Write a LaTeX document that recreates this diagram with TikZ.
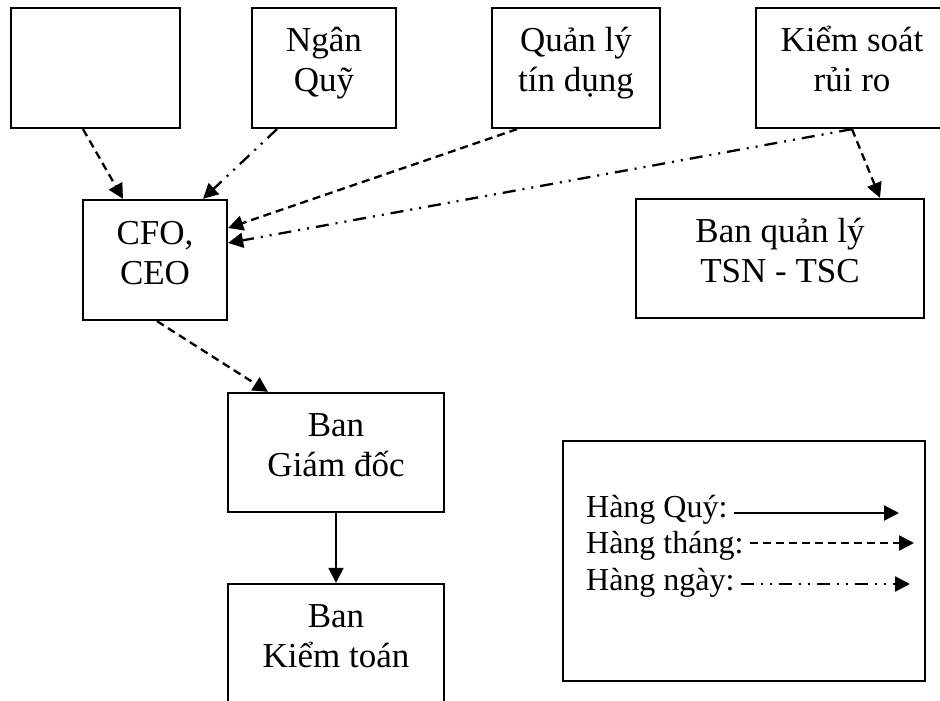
\documentclass[tikz,border=0pt]{standalone}
\usepackage{fontspec}
\setmainfont{Liberation Serif}
\usetikzlibrary{arrows.meta}
\begin{document}
\begin{tikzpicture}
[x=1pt,y=-1pt,line width=2.3pt,%
  every node/.style={font=\fontsize{35}{40}\selectfont},%
  box/.style={draw,rectangle,align=center,inner sep=0pt,text height=70pt,text depth=22pt},%
  key/.style={anchor=base west,inner xsep=5pt,inner ysep=2pt,font=\fontsize{32}{36}\selectfont},%
  quarterly/.style={-{Triangle[length=15pt,width=15pt]}},%
  monthly/.style={-{Triangle[length=15pt,width=15pt]},dash pattern=on 8pt off 5pt},%
  daily/.style={-{Triangle[length=15pt,width=15pt]},dash pattern=on 13pt off 7pt on 2pt off 7pt on 2pt off 7pt}]
\useasboundingbox (0,0) rectangle (940,701);
\node[box,minimum width=169pt,minimum height=120pt] (blank) at (95.5,68) {};
\node[box,minimum width=144pt,minimum height=120pt] (fund) at (324,68) {Ngân\\Quỹ};
\node[box,minimum width=168pt,minimum height=120pt] (credit) at (576,68) {Quản lý\\tín dụng};
\node[box,minimum width=192pt,minimum height=120pt] (risk) at (852,68) {Kiểm soát\\rủi ro};
\node[box,minimum width=144pt,minimum height=120pt] (cfo) at (155,260) {CFO,\\CEO};
\node[box,minimum width=288pt,minimum height=119pt] (assets) at (780,258.5) {Ban quản lý\\TSN - TSC};
\node[box,minimum width=216pt,minimum height=119pt] (board) at (336,452.5) {Ban\\Giám đốc};
\node[box,minimum width=216pt,minimum height=119pt] (audit) at (336,643.5) {Ban\\Kiểm toán};
\node[draw,minimum width=362pt,minimum height=240pt] (legend) at (744,561) {};
\draw[monthly] ([xshift=-12.5pt]blank.south) -- ([xshift=-32pt]cfo.north);
\draw[daily] ([xshift=-47pt]fund.south) -- ([xshift=48pt]cfo.north);
\draw[monthly] ([xshift=-59pt]credit.south) -- ([yshift=32pt]cfo.east);
\draw[daily] (risk.south) -- ([yshift=17pt]cfo.east);
\draw[monthly] (risk.south) -- ([xshift=100pt]assets.north);
\draw[monthly] ([xshift=2pt]cfo.south) -- ([xshift=-68pt]board.north);
\draw[quarterly] (board.south) -- (audit.north);
\node[key] (qlabel) at (580,517) {Hàng Quý:};
\node[key] (mlabel) at (580,553) {Hàng tháng:};
\node[key] (dlabel) at (580,590) {Hàng ngày:};
\coordinate (qend) at (899,513);
\coordinate (mend) at (914,543);
\coordinate (dend) at (910,584);
\draw[quarterly] (qlabel.east |- qend) -- (qend);
\draw[monthly] (mlabel.east |- mend) -- (mend);
\draw[daily] (dlabel.east |- dend) -- (dend);
\end{tikzpicture}
\end{document}
